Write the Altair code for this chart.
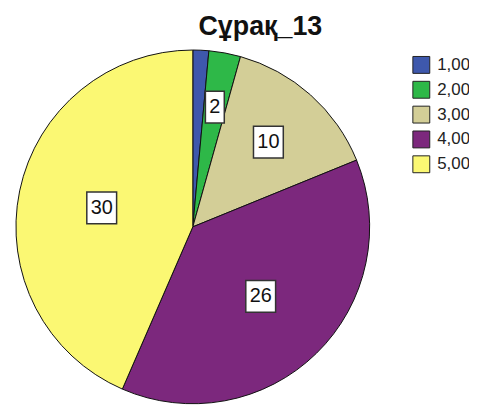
import altair as alt
import pandas as pd

categories = ["1,00", "2,00", "3,00", "4,00", "5,00"]
counts = [1, 2, 10, 26, 30]
colors = ["#3E58AC", "#2EB848", "#D3CE97", "#7C287D", "#FBF873"]
title_text = "Сұрақ_13"

W, H, R = 372, 358, 178
FONT = "Liberation Sans"

df = pd.DataFrame({"cat": categories, "count": counts})

base = (
    alt.Chart(df)
    .transform_joinaggregate(total="sum(count)")
    .transform_window(cum="sum(count)", sort=[alt.SortField("cat")], frame=[None, 0])
    .transform_calculate(
        frac="datum.count / datum.total",
        mid="(datum.cum - datum.count / 2) / datum.total * 2 * PI",
    )
    .transform_calculate(
        r=f"{R} * (0.5 + 0.2 * (1 - 2 * datum.frac))",
    )
    .transform_calculate(
        px="datum.r * sin(datum.mid)",
        py="datum.r * cos(datum.mid)",
        bw="8 + 11 * length(toString(datum.count))",
    )
)

xs = alt.Scale(domain=[-W / 2, W / 2], nice=False, zero=False)
ys = alt.Scale(domain=[-H / 2, H / 2], nice=False, zero=False)

arc = base.mark_arc(outerRadius=R, stroke="#111111", strokeWidth=1).encode(
    theta=alt.Theta("count:Q", stack=True),
    color=alt.Color(
        "cat:N",
        scale=alt.Scale(domain=categories, range=colors),
        legend=alt.Legend(
            orient="none",
            legendX=407,
            legendY=7,
            title=None,
            symbolType="square",
            symbolSize=289,
            symbolStrokeColor="#222222",
            symbolStrokeWidth=1,
            symbolOpacity=1,
            labelFontSize=17,
            labelFont=FONT,
            labelColor="#222222",
            labelOffset=7,
            rowPadding=3,
            padding=0,
        ),
    ),
    order=alt.Order("cat:N", sort="ascending"),
)

labels = base.transform_filter("datum.count >= 2").transform_calculate(
    x1="datum.px - datum.bw / 2",
    x2="datum.px + datum.bw / 2",
    y1="datum.py - 16",
    y2="datum.py + 16",
)

rect = labels.mark_rect(fill="white", stroke="#333333", strokeWidth=1.5).encode(
    x=alt.X("x1:Q", scale=xs, axis=None),
    x2="x2:Q",
    y=alt.Y("y1:Q", scale=ys, axis=None),
    y2="y2:Q",
)

text = labels.mark_text(fontSize=20, font=FONT, color="#111111").encode(
    x=alt.X("px:Q", scale=xs, axis=None),
    y=alt.Y("py:Q", scale=ys, axis=None),
    text="count:Q",
)

chart = (
    alt.layer(arc, rect, text)
    .properties(
        width=W,
        height=H,
        title=alt.TitleParams(
            title_text, fontSize=27, fontWeight="bold", font=FONT, color="#111111",
            anchor="middle", dx=68, offset=7,
        ),
        padding={"left": 0, "top": 40, "right": 92, "bottom": 0},
        autosize="none",
    )
    .configure_view(stroke=None)
)

chart.save("out.html", embed_options={"renderer": "svg", "actions": False})
